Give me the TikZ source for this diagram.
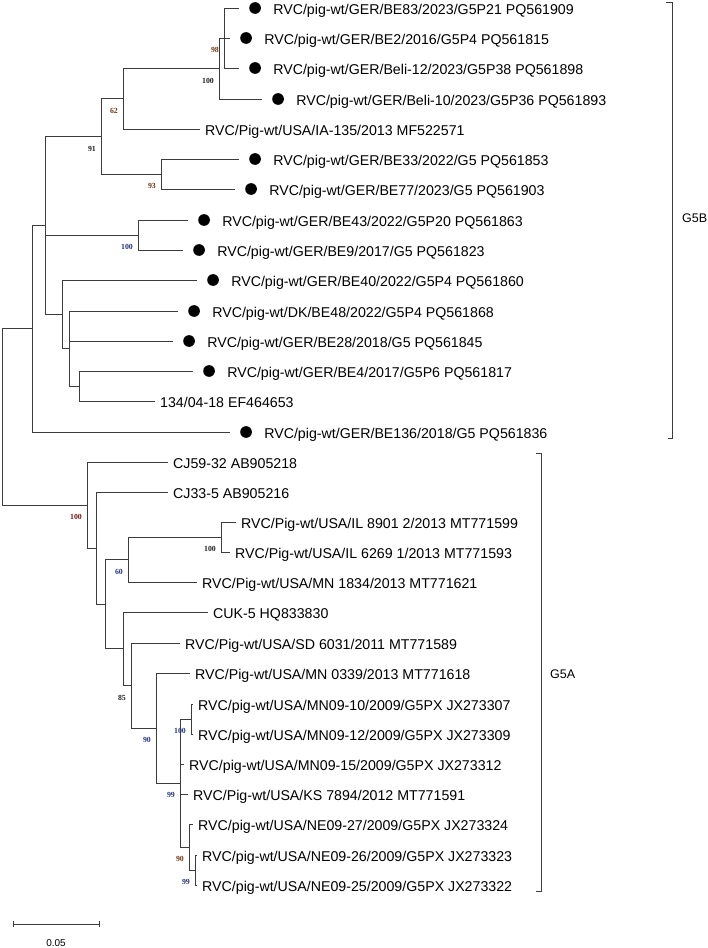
\documentclass[tikz,border=0pt]{standalone}
\usepackage{fontspec}
\newfontfamily\arialf{Liberation Sans}
\newfontfamily\timesf{Liberation Serif}
\usetikzlibrary{positioning,calc}
\definecolor{bsblue}{RGB}{35,55,125}
\definecolor{bsbrown}{RGB}{115,55,20}
\definecolor{bsred}{RGB}{110,25,20}
\definecolor{bsdark}{RGB}{35,30,35}
\definecolor{treeline}{RGB}{60,60,60}

\begin{document}
\begin{tikzpicture}[x=1pt, y=-1pt,
		branch/.style={draw=treeline, line width=0.8pt},
		dot/.style={circle, fill=black, inner sep=0pt, minimum size=11.7pt},
		leaf/.style={font=\arialf\fontsize{14.2}{17}\selectfont, inner sep=0pt, text height=10pt, text depth=0pt, anchor=west, yshift=-1pt},
		clade/.style={font=\arialf\fontsize{12.5}{15}\selectfont, inner sep=0pt, anchor=west},
		boot/.style={font=\timesf\bfseries\fontsize{7.8}{9}\selectfont, inner sep=0pt, anchor=east}]
		\useasboundingbox (0,0) rectangle (707,948);
		% internal nodes
		\foreach \n/\x/\y in {A/224/38, B/219/68.5, C/123/98.75, D/101/136.5, E/161/174, G/138/235,
			J/79/386, I/69/348.5, H/62/314, F/45/225.25, K/32/328.5, root/2/416.75,
			L/87/505, M/96/548, N/105/604, O/128/559.5, Q/221/537, P/123/648.75, R/131/685.5,
			S/156/728, T/180/783, U/191/719, V/189/847, W/195/870}
			\coordinate (\n) at (\x,\y);
		% tips of the new strains (marked with a dot)
		\foreach \n/\x/\y/\txt in {1/239/8/{RVC/pig-wt/GER/BE83/2023/G5P21 PQ561909},
			2/230/38/{RVC/pig-wt/GER/BE2/2016/G5P4 PQ561815},
			3/239/68/{RVC/pig-wt/GER/Beli-12/2023/G5P38 PQ561898},
			4/262/99/{RVC/pig-wt/GER/Beli-10/2023/G5P36 PQ561893},
			6/239/159/{RVC/pig-wt/GER/BE33/2022/G5 PQ561853},
			7/235/189/{RVC/pig-wt/GER/BE77/2023/G5 PQ561903},
			8/188/220/{RVC/pig-wt/GER/BE43/2022/G5P20 PQ561863},
			9/183/250/{RVC/pig-wt/GER/BE9/2017/G5 PQ561823},
			10/197/280/{RVC/pig-wt/GER/BE40/2022/G5P4 PQ561860},
			11/178/311/{RVC/pig-wt/DK/BE48/2022/G5P4 PQ561868},
			12/173/341/{RVC/pig-wt/GER/BE28/2018/G5 PQ561845},
			13/193/371/{RVC/pig-wt/GER/BE4/2017/G5P6 PQ561817},
			15/230/432/{RVC/pig-wt/GER/BE136/2018/G5 PQ561836}} {
			\coordinate (t\n) at (\x,\y);
			\node[dot, right=10pt of t\n] (d\n) {};
			\node[leaf, right=12pt of d\n] (l\n) {\txt};
		}
		% reference tips
		\foreach \n/\x/\y/\txt in {5/200/129/{RVC/Pig-wt/USA/IA-135/2013 MF522571},
			14/155/401/{134/04-18 EF464653},
			16/168/462/{CJ59-32 AB905218},
			17/168/492/{CJ33-5 AB905216},
			18/236/522/{RVC/Pig-wt/USA/IL 8901 2/2013 MT771599},
			19/230/552/{RVC/Pig-wt/USA/IL 6269 1/2013 MT771593},
			20/197/582/{RVC/Pig-wt/USA/MN 1834/2013 MT771621},
			21/208/612/{CUK-5 HQ833830},
			22/180/643/{RVC/Pig-wt/USA/SD 6031/2011 MT771589},
			23/190/673/{RVC/Pig-wt/USA/MN 0339/2013 MT771618},
			24/193/704/{RVC/pig-wt/USA/MN09-10/2009/G5PX JX273307},
			25/193/734/{RVC/pig-wt/USA/MN09-12/2009/G5PX JX273309},
			26/184/764/{RVC/pig-wt/USA/MN09-15/2009/G5PX JX273312},
			27/188/794/{RVC/Pig-wt/USA/KS 7894/2012 MT771591},
			28/193/824/{RVC/pig-wt/USA/NE09-27/2009/G5PX JX273324},
			29/197/855/{RVC/pig-wt/USA/NE09-26/2009/G5PX JX273323},
			30/197/885/{RVC/pig-wt/USA/NE09-25/2009/G5PX JX273322}} {
			\coordinate (t\n) at (\x,\y);
			\node[leaf, right=5pt of t\n] (l\n) {\txt};
		}
		% branches
		\foreach \p/\c in {A/t1, A/t2, A/t3, B/A, B/t4, C/B, C/t5, E/t6, E/t7, D/C, D/E,
			G/t8, G/t9, J/t13, J/t14, I/t11, I/t12, I/J, H/t10, H/I, F/D, F/G, F/H, K/F, K/t15,
			root/K, root/L, L/t16, L/M, M/t17, M/N, N/O, N/P, O/Q, O/t20, Q/t18, Q/t19,
			P/t21, P/R, R/t22, R/S, S/t23, S/T, T/U, T/t26, T/t27, T/V, U/t24, U/t25,
			V/t28, V/W, W/t29, W/t30}
			\draw[branch] (\p) |- (\c);
		% bootstrap values
		\foreach \p/\v/\col in {A/98/bsbrown, B/100/bsdark, C/62/bsbrown, D/91/bsdark, E/93/bsbrown,
			G/100/bsblue, L/100/bsred, O/60/bsblue, Q/100/bsdark, R/85/bsdark, S/90/bsblue,
			U/100/bsblue, T/99/bsblue, V/90/bsbrown, W/99/bsblue}
			\node[boot, text=\col] (b\p) at ($(\p)+(-5,12)$) {\v};
		% clade brackets
		\draw[branch] (666,2) -- (672,2) -- (672,438) -- (668,438);
		\node[clade] (g5b) at (682,218) {G5B};
		\draw[branch] (536,453) -- (541,453) -- (541,891) -- (536,891);
		\node[clade] (g5a) at (550,674) {G5A};
		% scale bar
		\coordinate (s0) at (13,924);
		\coordinate (s1) at (99,924);
		\draw[branch] (s0) -- (s1);
		\draw[branch] ([yshift=3pt]s0) -- ([yshift=-3pt]s0) ([yshift=3pt]s1) -- ([yshift=-3pt]s1);
		\node[font=\arialf\fontsize{10}{12}\selectfont] (sbar) at (56,943) {0.05};
\end{tikzpicture}
\end{document}
